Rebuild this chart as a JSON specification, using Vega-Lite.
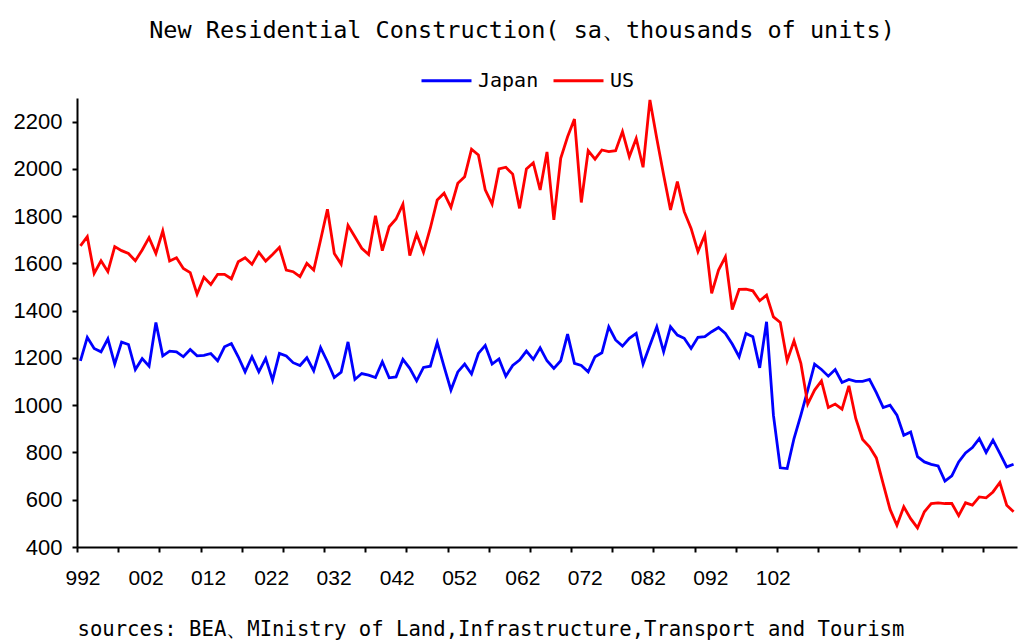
{
  "$schema": "https://vega.github.io/schema/vega-lite/v6.json",
  "width": 940,
  "height": 449,
  "autosize": {"type": "none"},
  "padding": {"left": 77, "top": 98, "right": 6, "bottom": 96},
  "background": "white",
  "title": {"text": "New Residential Construction( sa、thousands of units)", "font": "DejaVu Sans Mono", "fontSize": 23.5, "fontWeight": "normal", "color": "black", "anchor": "middle", "offset": 12, "dx": -25},
  "config": {"view": {"stroke": null}},
  "data": {"values": [
    {"i":0,"Japan":1188,"US":1674},{"i":1,"Japan":1287,"US":1713},{"i":2,"Japan":1240,"US":1558},{"i":3,"Japan":1226,"US":1611},
    {"i":4,"Japan":1281,"US":1565},{"i":5,"Japan":1174,"US":1671},{"i":6,"Japan":1267,"US":1654},{"i":7,"Japan":1257,"US":1642},
    {"i":8,"Japan":1151,"US":1611},{"i":9,"Japan":1197,"US":1657},{"i":10,"Japan":1165,"US":1709},{"i":11,"Japan":1350,"US":1642},
    {"i":12,"Japan":1209,"US":1737},{"i":13,"Japan":1229,"US":1610},{"i":14,"Japan":1226,"US":1624},{"i":15,"Japan":1205,"US":1579},
    {"i":16,"Japan":1236,"US":1561},{"i":17,"Japan":1209,"US":1470},{"i":18,"Japan":1211,"US":1541},{"i":19,"Japan":1219,"US":1511},
    {"i":20,"Japan":1188,"US":1554},{"i":21,"Japan":1247,"US":1554},{"i":22,"Japan":1261,"US":1535},{"i":23,"Japan":1205,"US":1607},
    {"i":24,"Japan":1141,"US":1624},{"i":25,"Japan":1205,"US":1596},{"i":26,"Japan":1141,"US":1647},{"i":27,"Japan":1198,"US":1610},
    {"i":28,"Japan":1106,"US":1638},{"i":29,"Japan":1219,"US":1668},{"i":30,"Japan":1208,"US":1572},{"i":31,"Japan":1180,"US":1565},
    {"i":32,"Japan":1168,"US":1544},{"i":33,"Japan":1201,"US":1600},{"i":34,"Japan":1146,"US":1572},{"i":35,"Japan":1244,"US":1699},
    {"i":36,"Japan":1184,"US":1829},{"i":37,"Japan":1117,"US":1642},{"i":38,"Japan":1140,"US":1597},{"i":39,"Japan":1268,"US":1761},
    {"i":40,"Japan":1109,"US":1713},{"i":41,"Japan":1134,"US":1664},{"i":42,"Japan":1127,"US":1638},{"i":43,"Japan":1117,"US":1802},
    {"i":44,"Japan":1184,"US":1654},{"i":45,"Japan":1116,"US":1755},{"i":46,"Japan":1120,"US":1788},{"i":47,"Japan":1194,"US":1851},
    {"i":48,"Japan":1156,"US":1633},{"i":49,"Japan":1103,"US":1724},{"i":50,"Japan":1160,"US":1647},{"i":51,"Japan":1165,"US":1750},
    {"i":52,"Japan":1266,"US":1868},{"i":53,"Japan":1163,"US":1897},{"i":54,"Japan":1064,"US":1837},{"i":55,"Japan":1141,"US":1939},
    {"i":56,"Japan":1174,"US":1967},{"i":57,"Japan":1132,"US":2083},{"i":58,"Japan":1219,"US":2059},{"i":59,"Japan":1253,"US":1911},
    {"i":60,"Japan":1174,"US":1851},{"i":61,"Japan":1196,"US":2000},{"i":62,"Japan":1123,"US":2007},{"i":63,"Japan":1168,"US":1978},
    {"i":64,"Japan":1191,"US":1833},{"i":65,"Japan":1229,"US":2000},{"i":66,"Japan":1194,"US":2026},{"i":67,"Japan":1243,"US":1911},
    {"i":68,"Japan":1188,"US":2072},{"i":69,"Japan":1156,"US":1784},{"i":70,"Japan":1188,"US":2045},{"i":71,"Japan":1301,"US":2136},
    {"i":72,"Japan":1177,"US":2211},{"i":73,"Japan":1168,"US":1858},{"i":74,"Japan":1141,"US":2077},{"i":75,"Japan":1205,"US":2041},
    {"i":76,"Japan":1222,"US":2080},{"i":77,"Japan":1332,"US":2073},{"i":78,"Japan":1276,"US":2077},{"i":79,"Japan":1250,"US":2158},
    {"i":80,"Japan":1283,"US":2052},{"i":81,"Japan":1304,"US":2129},{"i":82,"Japan":1174,"US":2007},{"i":83,"Japan":1254,"US":2292},
    {"i":84,"Japan":1332,"US":2129},{"i":85,"Japan":1226,"US":1974},{"i":86,"Japan":1332,"US":1826},{"i":87,"Japan":1297,"US":1946},
    {"i":88,"Japan":1283,"US":1819},{"i":89,"Japan":1240,"US":1748},{"i":90,"Japan":1287,"US":1650},{"i":91,"Japan":1290,"US":1720},
    {"i":92,"Japan":1311,"US":1473},{"i":93,"Japan":1329,"US":1572},{"i":94,"Japan":1304,"US":1628},{"i":95,"Japan":1259,"US":1405},
    {"i":96,"Japan":1205,"US":1490},{"i":97,"Japan":1304,"US":1491},{"i":98,"Japan":1290,"US":1484},{"i":99,"Japan":1158,"US":1442},
    {"i":100,"Japan":1353,"US":1466},{"i":101,"Japan":958,"US":1374},{"i":102,"Japan":735,"US":1350},{"i":103,"Japan":732,"US":1188},
    {"i":104,"Japan":859,"US":1273},{"i":105,"Japan":958,"US":1177},{"i":106,"Japan":1064,"US":1005},{"i":107,"Japan":1174,"US":1064},
    {"i":108,"Japan":1151,"US":1103},{"i":109,"Japan":1123,"US":990},{"i":110,"Japan":1151,"US":1005},{"i":111,"Japan":1096,"US":983},
    {"i":112,"Japan":1109,"US":1082},{"i":113,"Japan":1101,"US":944},{"i":114,"Japan":1101,"US":855},{"i":115,"Japan":1109,"US":824},
    {"i":116,"Japan":1053,"US":777},{"i":117,"Japan":990,"US":667},{"i":118,"Japan":1000,"US":559},{"i":119,"Japan":958,"US":492},
    {"i":120,"Japan":873,"US":570},{"i":121,"Japan":887,"US":520},{"i":122,"Japan":782,"US":481},{"i":123,"Japan":760,"US":549},
    {"i":124,"Japan":750,"US":584},{"i":125,"Japan":743,"US":587},{"i":126,"Japan":679,"US":584},{"i":127,"Japan":701,"US":584},
    {"i":128,"Japan":760,"US":533},{"i":129,"Japan":798,"US":587},{"i":130,"Japan":821,"US":577},{"i":131,"Japan":859,"US":612},
    {"i":132,"Japan":800,"US":608},{"i":133,"Japan":852,"US":633},{"i":134,"Japan":796,"US":673},{"i":135,"Japan":739,"US":577},
    {"i":136,"Japan":750,"US":549}
  ]},
  "transform": [{"fold": ["Japan", "US"], "as": ["country", "value"]}],
  "mark": {"type": "line", "strokeWidth": 2.8},
  "encoding": {
    "x": {
      "field": "i", "type": "quantitative",
      "scale": {"domain": [-0.5, 136.5], "nice": false, "zero": false},
      "axis": {
        "values": [-0.5, 5.5, 11.5, 17.5, 23.5, 29.5, 35.5, 41.5, 47.5, 53.5, 59.5, 65.5, 71.5, 77.5, 83.5, 89.5, 95.5, 101.5, 107.5, 113.5, 119.5, 125.5, 131.5, 0.3, 9.5, 18.6, 27.8, 36.9, 46.1, 55.2, 64.4, 73.5, 82.7, 91.8, 100.9],
        "labelExpr": "indexof([0.3, 9.5, 18.6, 27.8, 36.9, 46.1, 55.2, 64.4, 73.5, 82.7, 91.8, 100.9], datum.value) >= 0 ? ['992','002','012','022','032','042','052','062','072','082','092','102'][indexof([0.3, 9.5, 18.6, 27.8, 36.9, 46.1, 55.2, 64.4, 73.5, 82.7, 91.8, 100.9], datum.value)] : ''",
        "tickOpacity": {"condition": {"test": "indexof([0.3, 9.5, 18.6, 27.8, 36.9, 46.1, 55.2, 64.4, 73.5, 82.7, 91.8, 100.9], datum.value) < 0", "value": 1}, "value": 0},
        "tickSize": 5, "tickWidth": 2, "tickColor": "black",
        "domainColor": "black", "domainWidth": 2,
        "grid": false,
        "labelFont": "Liberation Sans", "labelFontSize": 21, "labelColor": "black",
        "labelPadding": 15, "labelOverlap": false, "labelFlush": false, "labelBound": false,
        "title": "sources: BEA、MInistry of Land,Infrastructure,Transport and Tourism",
        "titleFont": "DejaVu Sans Mono", "titleFontSize": 20.6, "titleFontWeight": "normal", "titleColor": "black",
        "titleAnchor": "start", "titlePadding": 31
      }
    },
    "y": {
      "field": "value", "type": "quantitative",
      "scale": {"domain": [400, 2300], "nice": false, "zero": false},
      "axis": {
        "values": [400, 600, 800, 1000, 1200, 1400, 1600, 1800, 2000, 2200],
        "format": "d",
        "tickSize": 5, "tickWidth": 2, "tickColor": "black",
        "domainColor": "black", "domainWidth": 2,
        "grid": false,
        "labelFont": "Liberation Sans", "labelFontSize": 22, "labelColor": "black",
        "labelPadding": 10, "labelFlush": false,
        "title": null
      }
    },
    "color": {
      "field": "country", "type": "nominal",
      "scale": {"domain": ["Japan", "US"], "range": ["#0000ff", "#ff0000"]},
      "legend": {
        "orient": "none", "legendX": 343, "legendY": -44, "direction": "horizontal",
        "title": null, "symbolType": "stroke", "symbolSize": 2500, "symbolStrokeWidth": 2.8,
        "labelFont": "DejaVu Sans Mono", "labelFontSize": 20, "labelColor": "black",
        "columnPadding": 8, "labelOffset": 5
      }
    }
  }
}
